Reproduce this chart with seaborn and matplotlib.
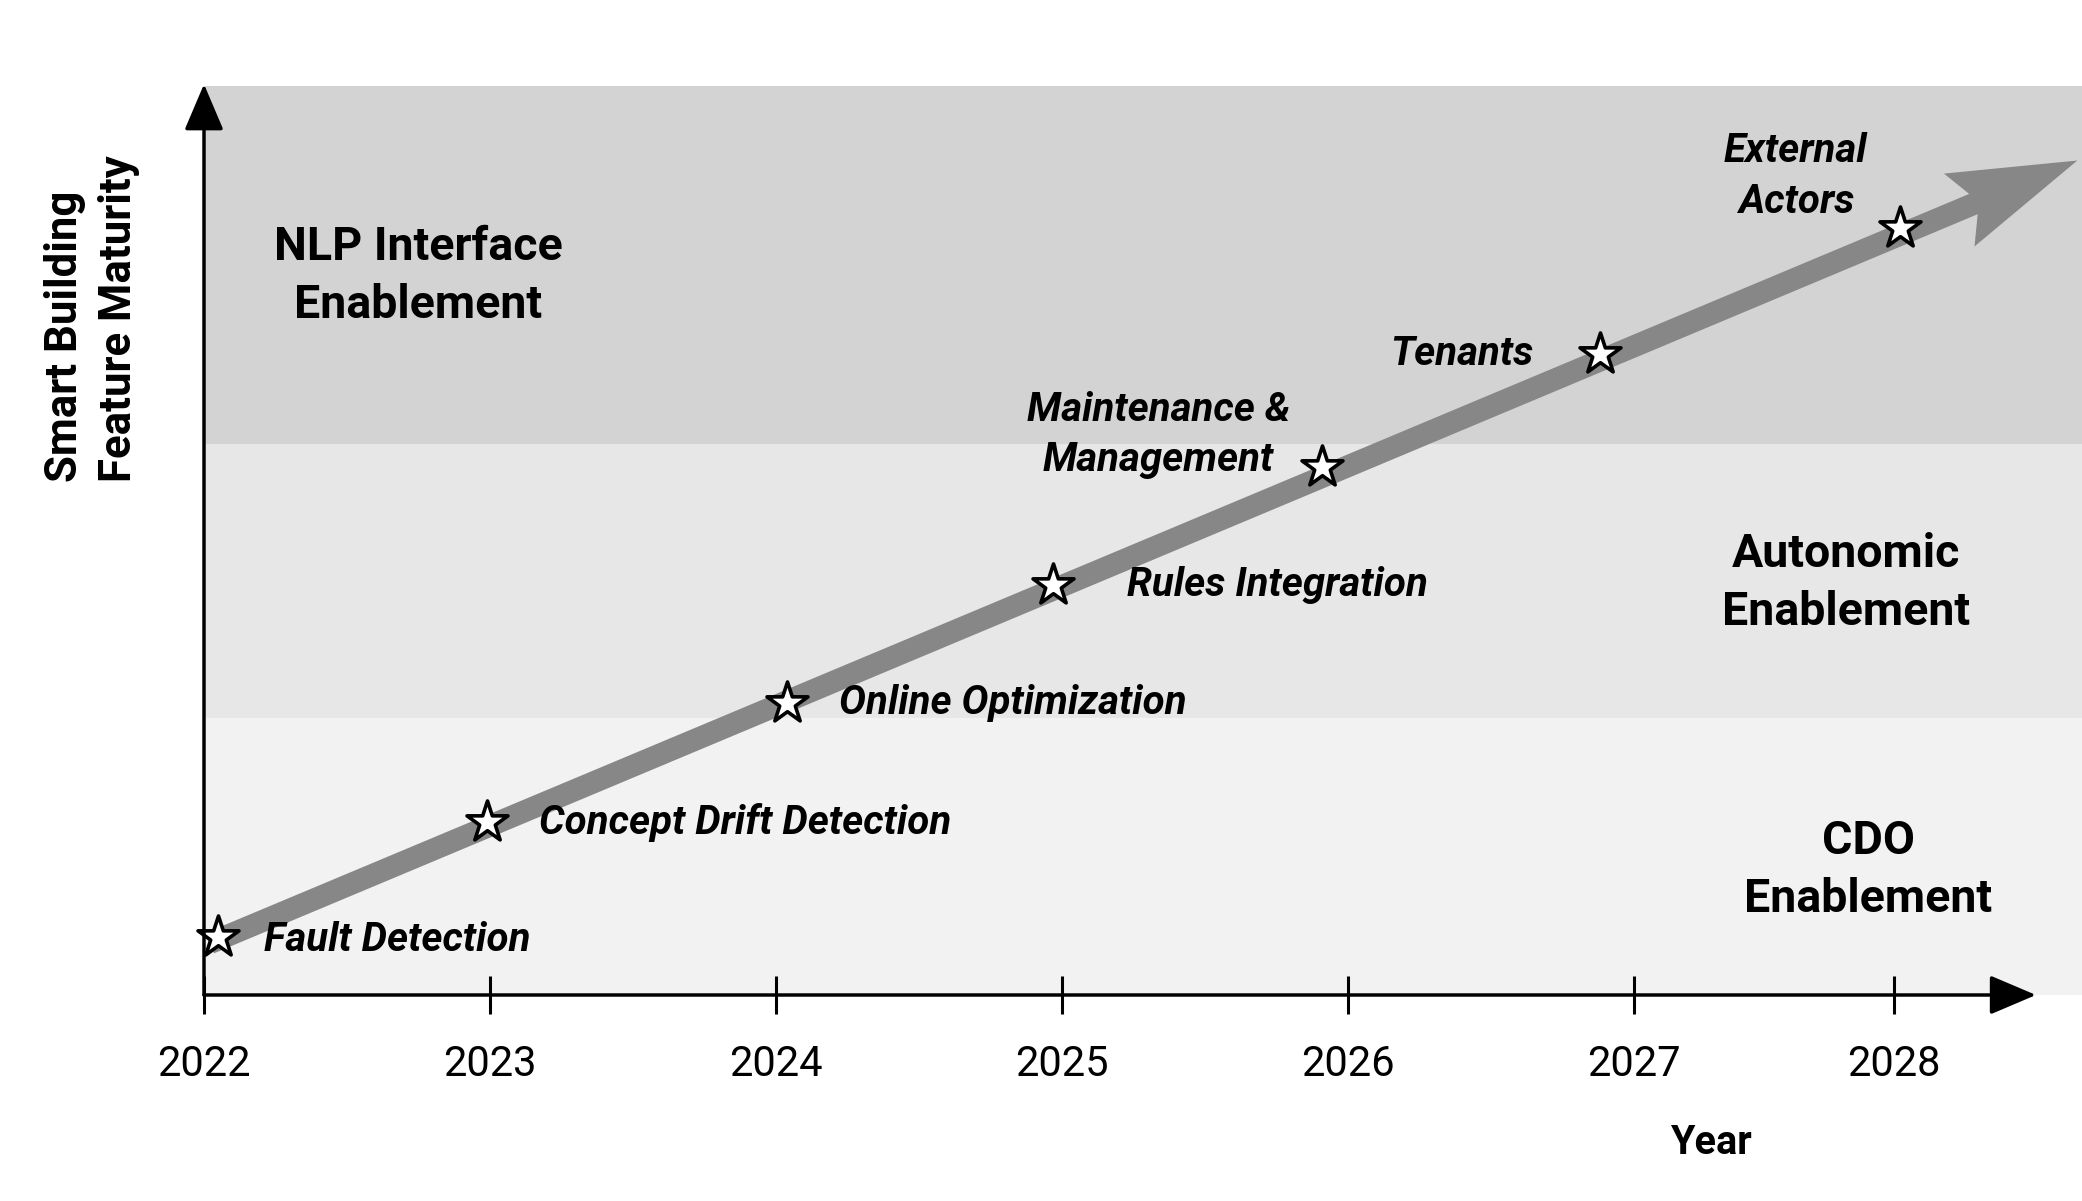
import matplotlib.pyplot as plt
import matplotlib.transforms as mtransforms
from matplotlib.patches import FancyArrow
import pandas as pd
import seaborn as sns

sns.set_theme(style="white")
plt.rcParams["font.family"] = ["Roboto", "DejaVu Sans"]
plt.rcParams["text.color"] = "black"

# milestones along the trend arrow
milestones = [
    "Fault Detection",
    "Concept Drift Detection",
    "Online Optimization",
    "Rules Integration",
    "Maintenance &\nManagement",
    "Tenants",
    "External\nActors",
]
milestone_year = [2022.05, 2022.99, 2024.04, 2024.97, 2025.91, 2026.88, 2027.93]
milestone_level = [6.4, 19.0, 32.1, 45.1, 58.1, 70.5, 84.4]

# trend arrow, start and tip
trend_year = [2022.02, 2028.55]
trend_level = [5.7, 91.8]

# maturity bands, bottom to top
band_names = ["CDO\nEnablement", "Autonomic\nEnablement", "NLP Interface\nEnablement"]
band_edges = [0, 30.5, 60.6, 100]
band_colors = ["#f2f2f2", "#e7e7e7", "#d3d3d3"]

tick_labels = ["2022", "2023", "2024", "2025", "2026", "2027", "2028"]
tick_years = [2022, 2023, 2024, 2025, 2026, 2027, 2027.91]

# label placement (offset in points, alignment)
label_layout = [
    (33, -2, "left"),
    (37, 0, "left"),
    (37, 0, "left"),
    (53, 0, "left"),
    (-118, 23, "center"),
    (-48, 0, "right"),
    (-75, 37, "center"),
]
band_label_xy = [(2027.82, 13.7), (2027.74, 45.3), (2022.75, 79.1)]

W, H = 2082, 1201
fig = plt.figure(figsize=(W / 100, H / 100), dpi=100)
fig.patch.set_facecolor("white")
ax = fig.add_axes([204 / W, (H - 995) / H, (W - 204) / W, (995 - 86) / H])
ax.set_facecolor("white")
ax.set_xlim(2022, 2022 + (W - 204) / 286)
ax.set_ylim(0, 100)

for lo, hi, c in zip(band_edges[:-1], band_edges[1:], band_colors):
    ax.axhspan(lo, hi, color=c, lw=0, zorder=0)

for name, (bx, by) in zip(band_names, band_label_xy):
    ax.text(bx, by, name, ha="center", va="center", fontsize=33.5,
            fontweight="bold", linespacing=1.4, color="black", zorder=4)

# big grey trend arrow, built in pixel space so the head is not skewed
p0 = ax.transData.transform((trend_year[0], trend_level[0]))
p1 = ax.transData.transform((trend_year[1], trend_level[1]))
arrow = FancyArrow(p0[0], p0[1], p1[0] - p0[0], p1[1] - p0[1], width=22,
                   head_width=79, head_length=128, overhang=0.12,
                   length_includes_head=True, color="#878787", lw=0,
                   transform=mtransforms.IdentityTransform(), zorder=2)
arrow.set_clip_on(False)
ax.add_patch(arrow)

df = pd.DataFrame({"year": milestone_year, "level": milestone_level, "name": milestones})
sns.scatterplot(data=df, x="year", y="level", marker="*", s=960, color="white",
                edgecolor="black", linewidth=2.6, zorder=5, ax=ax, clip_on=False)

for (x, y, name), (dx, dy, ha) in zip(df[["year", "level", "name"]].values, label_layout):
    ax.annotate(name, xy=(x, y), xytext=(dx, dy), textcoords="offset points",
                ha=ha, va="center", multialignment="center", fontsize=29,
                fontstyle="italic", fontweight="semibold", linespacing=1.42,
                color="black", zorder=6)

# axes drawn as arrows
axis_style = dict(arrowstyle="-|>,head_length=0.4,head_width=0.17",
                  mutation_scale=72, lw=2.5, color="black", shrinkA=0, shrinkB=0)
ax.annotate("", xy=(2022 + (2036 - 204) / 286, 0), xytext=(2022, 0),
            arrowprops=axis_style, annotation_clip=False, zorder=7)
ax.annotate("", xy=(2022, 100.2), xytext=(2022, 0),
            arrowprops=axis_style, annotation_clip=False, zorder=7)

for s in ax.spines.values():
    s.set_visible(False)
ax.set_xticks(tick_years, tick_labels)
ax.tick_params(axis="x", bottom=True, direction="inout", length=28, width=2.2,
               pad=21, labelsize=30, colors="black")
ax.tick_params(axis="y", left=False, labelleft=False)
ax.set_xlabel("Year", fontsize=28.5, fontweight="bold", va="center", color="black")
ax.xaxis.set_label_coords((1711 - 204) / (W - 204), (995 - 1143) / (995 - 86))
ax.set_ylabel("")
ax.text((92 - 204) / (W - 204), (995 - 482) / (995 - 86),
        "Smart Building\nFeature Maturity", transform=ax.transAxes, rotation=90,
        rotation_mode="default", ha="center", va="bottom", multialignment="left",
        fontsize=31.5, fontweight="bold", linespacing=1.35, color="black")

fig.savefig("out.png", dpi=100)
